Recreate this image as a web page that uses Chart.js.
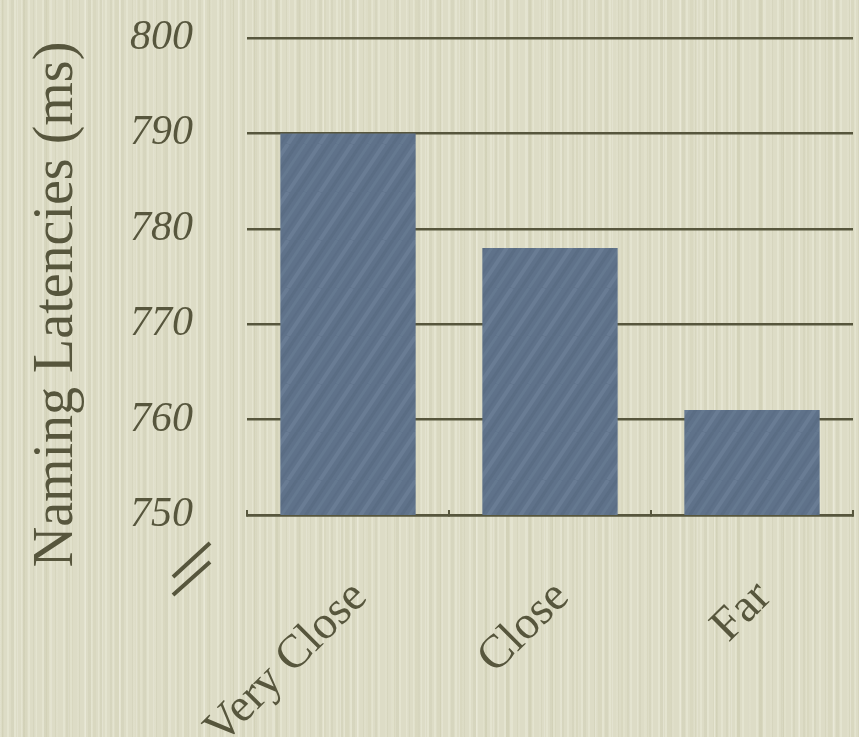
<!DOCTYPE html>
<html>
<head>
<meta charset="utf-8">
<script src="https://cdn.jsdelivr.net/npm/chart.js@4"></script>
<style>
    html, body {
        margin: 0;
        padding: 0;
    }
    body {
        width: 859px;
        height: 737px;
        overflow: hidden;
        background-color: #dddcc6;
        /* linen-like vertical streaks */
        background-image:
            repeating-linear-gradient(90deg, rgba(255, 255, 242, 0.22) 0 2px, transparent 2px 7px),
            repeating-linear-gradient(90deg, rgba(150, 150, 110, 0.09) 0 3px, transparent 3px 11px),
            repeating-linear-gradient(90deg, rgba(255, 255, 250, 0.18) 0 1px, transparent 1px 17px),
            repeating-linear-gradient(90deg, rgba(170, 168, 120, 0.08) 0 4px, transparent 4px 23px);
    }
    #wrap {
        position: relative;
        width: 859px;
        height: 737px;
    }
</style>
</head>
<body>
<div id="wrap"><canvas id="latencyChart"></canvas></div>
<script>
const categories = ['Very Close', 'Close', 'Far'];
const latencies = [790, 778, 761];
const yTickValues = [750, 760, 770, 780, 790, 800];

const ink = '#57563d';

// Slate fill with soft diagonal streaks for the bars
function makeBarPattern() {
    const w = 32, h = 48;
    const tile = document.createElement('canvas');
    tile.width = w;
    tile.height = h;
    const c = tile.getContext('2d');
    c.fillStyle = '#5f728a';
    c.fillRect(0, 0, w, h);
    const strokes = [
        { o: 0, color: 'rgba(130, 150, 172, 0.30)', lw: 4 },
        { o: 9, color: 'rgba(75, 92, 114, 0.22)', lw: 3 },
        { o: 17, color: 'rgba(125, 145, 168, 0.22)', lw: 3 },
        { o: 25, color: 'rgba(80, 96, 118, 0.18)', lw: 2 },
    ];
    strokes.forEach(s => {
        c.strokeStyle = s.color;
        c.lineWidth = s.lw;
        for (let k = -w; k <= w; k += w) {
            c.beginPath();
            c.moveTo(s.o + k, h);
            c.lineTo(s.o + k + w, 0);
            c.stroke();
        }
    });
    return c.createPattern(tile, 'repeat');
}

// Axis break symbol under the y axis
const axisBreak = {
    id: 'axisBreak',
    afterDraw(chart) {
        const { ctx, chartArea } = chart;
        const x = chartArea.left;
        const y = chartArea.bottom;
        ctx.save();
        ctx.strokeStyle = ink;
        ctx.lineWidth = 4;
        ctx.beginPath();
        ctx.moveTo(x - 74, y + 62);
        ctx.lineTo(x - 37, y + 28);
        ctx.moveTo(x - 74, y + 80);
        ctx.lineTo(x - 37, y + 47);
        ctx.stroke();
        ctx.restore();
    },
};

new Chart(document.getElementById('latencyChart').getContext('2d'), {
    type: 'bar',
    data: {
        labels: categories,
        datasets: [{
            data: latencies,
            backgroundColor: makeBarPattern(),
            borderWidth: 0,
            barPercentage: 0.67,
            categoryPercentage: 1,
        }],
    },
    options: {
        responsive: true,
        maintainAspectRatio: false,
        animation: false,
        layout: {
            padding: { top: 38, right: 6, bottom: 0, left: 0 },
        },
        plugins: {
            legend: { display: false },
            tooltip: { enabled: false },
        },
        scales: {
            x: {
                grid: {
                    display: true,
                    drawOnChartArea: false,
                    drawTicks: true,
                    tickLength: -5,
                    color: ink,
                    lineWidth: 2,
                },
                border: { display: true, color: ink, width: 2.5 },
                ticks: {
                    color: ink,
                    font: { family: '"Liberation Serif", serif', size: 47 },
                    minRotation: 45,
                    maxRotation: 45,
                    padding: 60,
                    labelOffset: 12,
                },
                afterFit(scale) {
                    scale.height = 222;
                },
            },
            y: {
                min: yTickValues[0],
                max: yTickValues[yTickValues.length - 1],
                grid: {
                    color: ink,
                    lineWidth: 2.5,
                    drawTicks: false,
                },
                border: { display: false },
                ticks: {
                    stepSize: yTickValues[1] - yTickValues[0],
                    color: ink,
                    padding: 54,
                    font: { family: '"Liberation Serif", serif', size: 42, style: 'italic' },
                },
                title: {
                    display: true,
                    text: 'Naming Latencies (ms)    ',
                    color: ink,
                    font: { family: '"Liberation Serif", serif', size: 56 },
                    padding: { top: 24, bottom: 0 },
                },
                afterFit(scale) {
                    // wide tick padding should not push the plot down
                    scale.width = 247;
                    scale.paddingTop = 0;
                    scale.paddingBottom = 0;
                },
            },
        },
    },
    plugins: [axisBreak],
});
</script>
</body>
</html>
